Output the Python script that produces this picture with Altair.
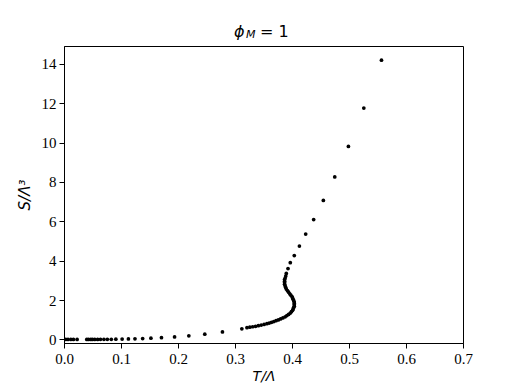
import altair as alt
import pandas as pd

# Data
T_vals = [0.003, 0.007, 0.012, 0.0165, 0.023, 0.040, 0.043, 0.047, 0.050, 0.054,
          0.059, 0.064, 0.070, 0.076, 0.083, 0.091, 0.102, 0.113, 0.1245, 0.138,
          0.1525, 0.171, 0.194, 0.219, 0.247, 0.278, 0.312,
          0.321, 0.326, 0.331, 0.336, 0.341, 0.346, 0.351, 0.356, 0.360, 0.364,
          0.368, 0.372, 0.376, 0.380, 0.384, 0.388, 0.391, 0.394, 0.397, 0.399,
          0.401, 0.402, 0.403, 0.404, 0.404, 0.404, 0.404, 0.403, 0.402, 0.401,
          0.400, 0.398, 0.396, 0.394, 0.392, 0.390, 0.389, 0.388, 0.387, 0.387,
          0.387, 0.387, 0.388, 0.389,
          0.390, 0.393, 0.397, 0.404, 0.413, 0.424, 0.438, 0.455, 0.475, 0.499,
          0.526, 0.557]
S_vals = [0.0, 0.0, 0.0, 0.0, 0.0, 0.001, 0.001, 0.002, 0.002, 0.003,
          0.004, 0.005, 0.006, 0.008, 0.010, 0.013, 0.018, 0.025, 0.034, 0.046,
          0.062, 0.088, 0.125, 0.185, 0.27, 0.38, 0.54,
          0.60, 0.62, 0.645, 0.67, 0.70, 0.73, 0.765, 0.80, 0.835, 0.87,
          0.91, 0.95, 0.99, 1.04, 1.09, 1.15, 1.21, 1.27, 1.34, 1.41,
          1.48, 1.55, 1.62, 1.69, 1.76, 1.83, 1.90, 1.97, 2.04, 2.11,
          2.18, 2.25, 2.32, 2.40, 2.48, 2.56, 2.64, 2.72, 2.80, 2.88,
          2.96, 3.04, 3.12, 3.22,
          3.35, 3.60, 3.90, 4.26, 4.74, 5.35, 6.09, 7.06, 8.25, 9.80,
          11.75, 14.18]

x_ticks = [0.0, 0.1, 0.2, 0.3, 0.4, 0.5, 0.6, 0.7]
y_ticks = [0, 2, 4, 6, 8, 10, 12, 14]

df = pd.DataFrame({"T": T_vals, "S": S_vals})
one = pd.DataFrame({"a": [0]})

W, H = 399, 297
label_font = "Liberation Serif"

points = alt.Chart(df).mark_circle(size=14, color="black", opacity=1).encode(
    x=alt.X("T:Q",
            scale=alt.Scale(domain=[0, 0.7], nice=False, zero=False),
            axis=alt.Axis(values=x_ticks, format=".1f", title="T/Λ",
                          titleFont="DejaVu Sans", titleFontStyle="italic",
                          titleFontWeight="normal", titleFontSize=14,
                          titleColor="black", titlePadding=3,
                          labelFont=label_font, labelFontSize=15,
                          labelColor="black", labelPadding=3,
                          tickSize=5, tickColor="black", tickWidth=1,
                          domainColor="black", domainWidth=1, grid=False,
                          labelFlush=False)),
    y=alt.Y("S:Q",
            scale=alt.Scale(domain=[-0.18, 14.9], nice=False, zero=False),
            axis=alt.Axis(values=y_ticks, format="d", title="S/Λ³",
                          titleFont="DejaVu Sans", titleFontStyle="italic",
                          titleFontWeight="normal", titleFontSize=15,
                          titleColor="black", titlePadding=9,
                          labelFont=label_font, labelFontSize=15,
                          labelColor="black", labelPadding=3,
                          tickSize=5, tickColor="black", tickWidth=1,
                          domainColor="black", domainWidth=1, grid=False,
                          labelFlush=False)),
)

t_phi = alt.Chart(one).mark_text(font="DejaVu Sans", fontStyle="italic", fontSize=16,
                                 align="left", baseline="alphabetic", color="black").encode(
    x=alt.value(170), y=alt.value(-9), text=alt.value("ϕ"))
t_sub = alt.Chart(one).mark_text(font="DejaVu Sans", fontStyle="italic", fontSize=11,
                                 align="left", baseline="alphabetic", color="black").encode(
    x=alt.value(182), y=alt.value(-8), text=alt.value("M"))
t_eq = alt.Chart(one).mark_text(font="DejaVu Sans", fontSize=16,
                                align="left", baseline="alphabetic", color="black").encode(
    x=alt.value(196), y=alt.value(-9), text=alt.value("= 1"))

chart = alt.layer(points, t_phi, t_sub, t_eq).properties(
    width=W, height=H,
    autosize=alt.AutoSizeParams(type="none"),
    padding={"left": 56, "top": 38, "right": 40, "bottom": 45},
).configure_view(stroke="black", strokeWidth=1)

chart.save("out.html", embed_options={"renderer": "svg", "actions": False})
